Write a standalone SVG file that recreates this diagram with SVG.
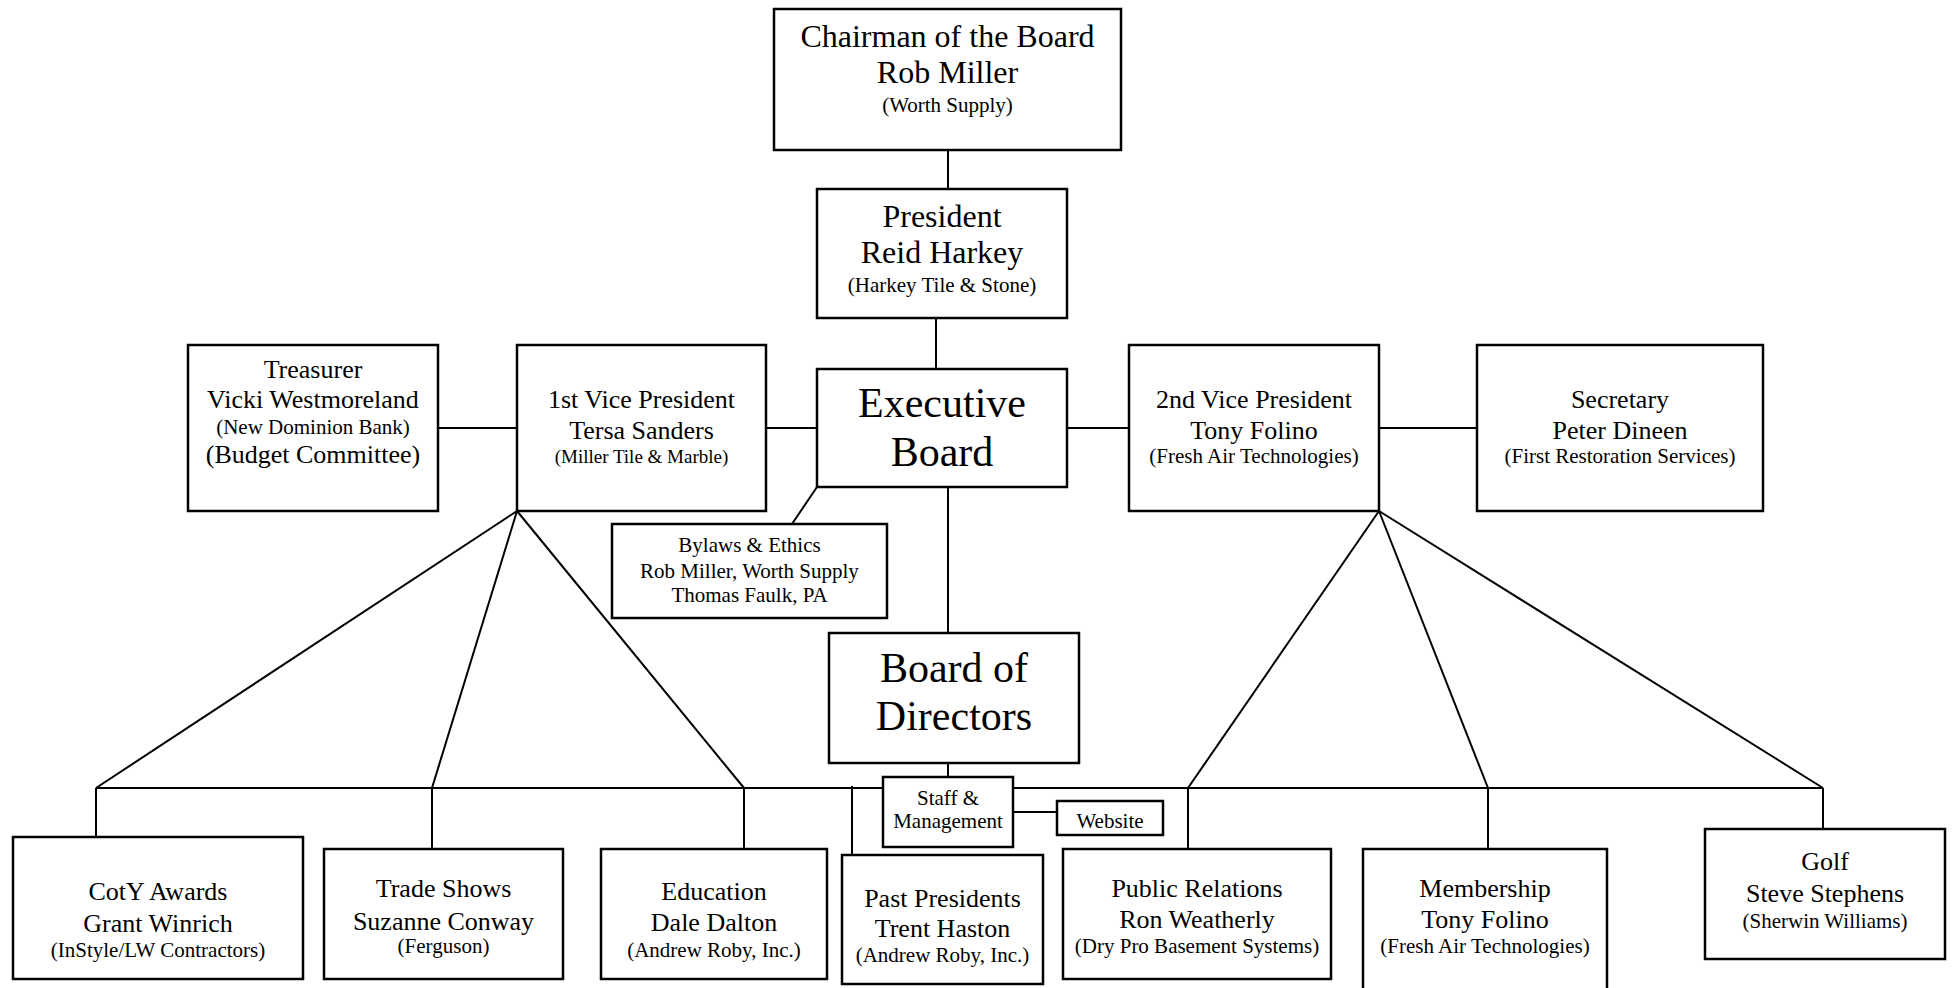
<svg xmlns="http://www.w3.org/2000/svg" width="1953" height="988" viewBox="0 0 1953 988">
<style>
.box{fill:#fff;stroke:#000;stroke-width:2.5}
.ln{stroke:#000;stroke-width:2;fill:none}
text{font-family:"Liberation Serif","Times New Roman",serif;fill:#000;text-anchor:middle}
.xl{font-size:42px}
.lg{font-size:32px}
.md{font-size:26px}
.sm{font-size:21px}
.xs{font-size:19px}
</style>
<rect width="1953" height="988" fill="#fff"/>
<g id="connectors" class="ln">
<line x1="948" y1="150" x2="948" y2="189"/>
<line x1="936" y1="318" x2="936" y2="369"/>
<line x1="948" y1="487" x2="948" y2="633"/>
<line x1="948" y1="763" x2="948" y2="777"/>
<line x1="766" y1="428" x2="817" y2="428"/>
<line x1="1067" y1="428" x2="1129" y2="428"/>
<line x1="438" y1="428" x2="517" y2="428"/>
<line x1="1379" y1="428" x2="1477" y2="428"/>
<line x1="817" y1="487" x2="792" y2="524"/>
<line x1="517" y1="511" x2="96" y2="788"/>
<line x1="517" y1="511" x2="432" y2="788"/>
<line x1="517" y1="511" x2="744" y2="788"/>
<line x1="1379" y1="511" x2="1188" y2="788"/>
<line x1="1379" y1="511" x2="1488" y2="788"/>
<line x1="1379" y1="511" x2="1823" y2="788"/>
<line x1="96" y1="788" x2="1823" y2="788"/>
<line x1="96" y1="788" x2="96" y2="837"/>
<line x1="432" y1="788" x2="432" y2="849"/>
<line x1="744" y1="788" x2="744" y2="849"/>
<line x1="852" y1="786" x2="852" y2="855"/>
<line x1="1188" y1="788" x2="1188" y2="849"/>
<line x1="1488" y1="788" x2="1488" y2="849"/>
<line x1="1823" y1="788" x2="1823" y2="829"/>
<line x1="1013" y1="812" x2="1057" y2="812"/>
</g>
<g id="chairman">
<rect class="box" x="774" y="9" width="347" height="141"/>
<text class="lg" x="947.5" y="47">Chairman of the Board</text>
<text class="lg" x="947.5" y="83">Rob Miller</text>
<text class="sm" x="947.5" y="112">(Worth Supply)</text>
</g>
<g id="president">
<rect class="box" x="817" y="189" width="250" height="129"/>
<text class="lg" x="942" y="227">President</text>
<text class="lg" x="942" y="263">Reid Harkey</text>
<text class="sm" x="942" y="292">(Harkey Tile &amp; Stone)</text>
</g>
<g id="executive-board">
<rect class="box" x="817" y="369" width="250" height="118"/>
<text class="xl" x="942" y="417">Executive</text>
<text class="xl" x="942" y="466">Board</text>
</g>
<g id="board-of-directors">
<rect class="box" x="829" y="633" width="250" height="130"/>
<text class="xl" x="954" y="682">Board of</text>
<text class="xl" x="954" y="730">Directors</text>
</g>
<g id="treasurer">
<rect class="box" x="188" y="345" width="250" height="166"/>
<text class="md" x="313" y="378">Treasurer</text>
<text class="md" x="313" y="408">Vicki Westmoreland</text>
<text class="sm" x="313" y="434">(New Dominion Bank)</text>
<text class="md" x="313" y="463">(Budget Committee)</text>
</g>
<g id="vp1">
<rect class="box" x="517" y="345" width="249" height="166"/>
<text class="md" x="641.5" y="408">1st Vice President</text>
<text class="md" x="641.5" y="439">Tersa Sanders</text>
<text class="xs" x="641.5" y="463">(Miller Tile &amp; Marble)</text>
</g>
<g id="vp2">
<rect class="box" x="1129" y="345" width="250" height="166"/>
<text class="md" x="1254" y="408">2nd Vice President</text>
<text class="md" x="1254" y="439">Tony Folino</text>
<text class="sm" x="1254" y="463">(Fresh Air Technologies)</text>
</g>
<g id="secretary">
<rect class="box" x="1477" y="345" width="286" height="166"/>
<text class="md" x="1620" y="408">Secretary</text>
<text class="md" x="1620" y="439">Peter Dineen</text>
<text class="sm" x="1620" y="463">(First Restoration Services)</text>
</g>
<g id="bylaws">
<rect class="box" x="612" y="524" width="275" height="94"/>
<text class="sm" x="749.5" y="552">Bylaws &amp; Ethics</text>
<text class="sm" x="749.5" y="578">Rob Miller, Worth Supply</text>
<text class="sm" x="749.5" y="602">Thomas Faulk, PA</text>
</g>
<g id="staff">
<rect class="box" x="883" y="777" width="130" height="70"/>
<text class="sm" x="948" y="805">Staff &amp;</text>
<text class="sm" x="948" y="828">Management</text>
</g>
<g id="website">
<rect class="box" x="1057" y="801" width="106" height="34"/>
<text class="sm" x="1110" y="828">Website</text>
</g>
<g id="coty">
<rect class="box" x="13" y="837" width="290" height="142"/>
<text class="md" x="158" y="900">CotY Awards</text>
<text class="md" x="158" y="932">Grant Winrich</text>
<text class="sm" x="158" y="957">(InStyle/LW Contractors)</text>
</g>
<g id="trade-shows">
<rect class="box" x="324" y="849" width="239" height="130"/>
<text class="md" x="443.5" y="897">Trade Shows</text>
<text class="md" x="443.5" y="930">Suzanne Conway</text>
<text class="sm" x="443.5" y="953">(Ferguson)</text>
</g>
<g id="education">
<rect class="box" x="601" y="849" width="226" height="130"/>
<text class="md" x="714" y="900">Education</text>
<text class="md" x="714" y="931">Dale Dalton</text>
<text class="sm" x="714" y="957">(Andrew Roby, Inc.)</text>
</g>
<g id="past-presidents">
<rect class="box" x="842" y="855" width="201" height="129"/>
<text class="md" x="942.5" y="907">Past Presidents</text>
<text class="md" x="942.5" y="937">Trent Haston</text>
<text class="sm" x="942.5" y="962">(Andrew Roby, Inc.)</text>
</g>
<g id="public-relations">
<rect class="box" x="1063" y="849" width="268" height="130"/>
<text class="md" x="1197" y="897">Public Relations</text>
<text class="md" x="1197" y="928">Ron Weatherly</text>
<text class="sm" x="1197" y="953">(Dry Pro Basement Systems)</text>
</g>
<g id="membership">
<rect class="box" x="1363" y="849" width="244" height="150"/>
<text class="md" x="1485" y="897">Membership</text>
<text class="md" x="1485" y="928">Tony Folino</text>
<text class="sm" x="1485" y="953">(Fresh Air Technologies)</text>
</g>
<g id="golf">
<rect class="box" x="1705" y="829" width="240" height="130"/>
<text class="md" x="1825" y="870">Golf</text>
<text class="md" x="1825" y="902">Steve Stephens</text>
<text class="sm" x="1825" y="928">(Sherwin Williams)</text>
</g>
</svg>
